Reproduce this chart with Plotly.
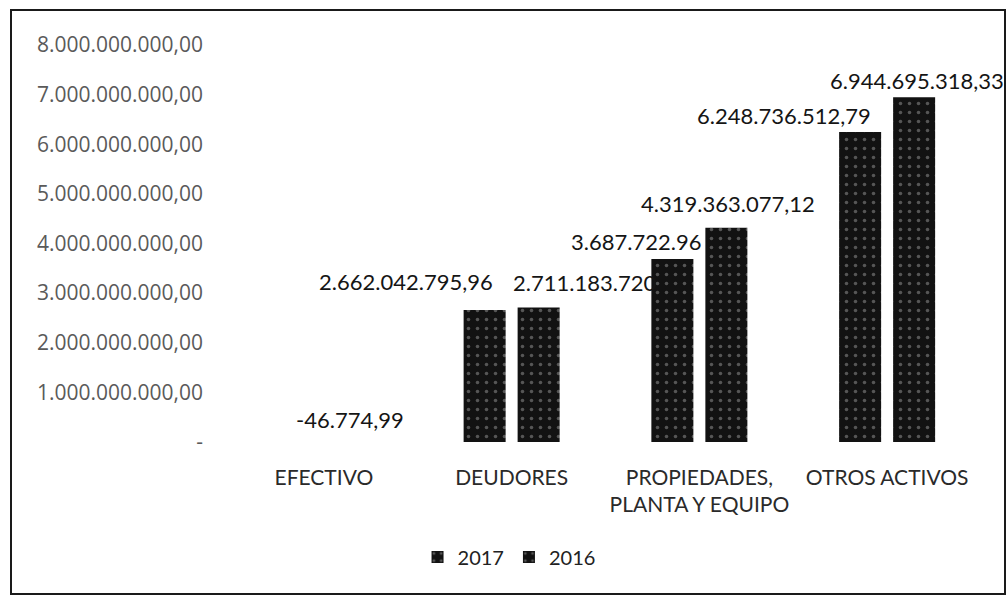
import plotly.graph_objects as go

categories = ["EFECTIVO", "DEUDORES", "PROPIEDADES,<br>PLANTA Y EQUIPO", "OTROS ACTIVOS"]
values_2017 = [None, 2662042795.96, 3687722961.00, 6248736512.79]
values_2016 = [-46774.99, 2711183720.00, 4319363077.12, 6944695318.33]
labels_2017 = [None, "2.662.042.795,96", "3.687.722.96", "6.248.736.512,79"]
labels_2016 = ["-46.774,99", "2.711.183.720", "4.319.363.077,12", "6.944.695.318,33"]
tick_values = [0, 1e9, 2e9, 3e9, 4e9, 5e9, 6e9, 7e9, 8e9]
tick_labels = ["-", "1.000.000.000,00", "2.000.000.000,00", "3.000.000.000,00",
               "4.000.000.000,00", "5.000.000.000,00", "6.000.000.000,00",
               "7.000.000.000,00", "8.000.000.000,00"]

# layout geometry (pixels)
W, H = 1008, 599
ML, MR, MT, MB = 230, 27, 45, 157
PW, PH = W - ML - MR, H - MT - MB

BAR_COLOR = "#121212"
BAR_PATTERN = dict(shape=".", fgcolor="#9a9a9a", bgcolor=BAR_COLOR, size=9,
                   solidity=0.12, fillmode="overlay")

fig = go.Figure()
fig.add_trace(go.Bar(name="2017", x=categories, y=values_2017,
                     marker=dict(color=BAR_COLOR, line=dict(width=0), pattern=BAR_PATTERN)))
fig.add_trace(go.Bar(name="2016", x=categories, y=values_2016,
                     marker=dict(color=BAR_COLOR, line=dict(width=0), pattern=BAR_PATTERN)))

# label placement offsets (px): (xshift, yshift, xanchor), relative to category centre
off_2017 = [None, (-106, 28, "center"), (-130, 18, "left"), (-103, 16, "center")]
off_2016 = [(26, 23, "center"), (-1, 25, "left"), (29, 24, "center"), (30, 17, "center")]

annotations = []
for vals, labs, offs in ((values_2017, labels_2017, off_2017), (values_2016, labels_2016, off_2016)):
    for c, v, t, o in zip(categories, vals, labs, offs):
        if v is None or t is None:
            continue
        annotations.append(dict(x=c, y=max(v, 0), xref="x", yref="y", text=t,
                                showarrow=False, xanchor=o[2], yanchor="middle",
                                xshift=o[0], yshift=o[1],
                                font=dict(family="Lato", size=22, color="#151515")))

def px_to_paper_x(px):
    return (px - ML) / PW

def px_to_paper_y(py):
    return (MT + PH - py) / PH

fig.update_layout(
    width=W, height=H,
    margin=dict(l=ML, r=MR, t=MT, b=MB, pad=0, autoexpand=False),
    paper_bgcolor="white", plot_bgcolor="white",
    barmode="group", bargap=0.4248, bargroupgap=0.222,
    showlegend=True,
    legend=dict(orientation="h", xref="container", yref="container",
                x=0.505, y=1 - 557 / H, xanchor="center", yanchor="middle",
                font=dict(family="Lato", size=20, color="#222"),
                itemwidth=30, traceorder="normal"),
    xaxis=dict(range=[-0.5, len(categories) - 0.5], autorange=False,
               showline=False, showgrid=False, zeroline=False, ticks="",
               automargin=False,
               tickfont=dict(family="Lato", size=21, color="#2a2a2a"),
               ticklabelstandoff=21),
    yaxis=dict(range=[0, 8e9], autorange=False, showline=False, showgrid=False, zeroline=False,
               automargin=False,
               tickmode="array", tickvals=tick_values, ticktext=tick_labels,
               ticks="", ticklabelstandoff=26,
               tickfont=dict(family="Open Sans", size=21, color="#5a5a5a")),
    annotations=annotations,
    shapes=[dict(type="rect", xref="paper", yref="paper",
                 x0=px_to_paper_x(11), x1=px_to_paper_x(1005),
                 y0=px_to_paper_y(594), y1=px_to_paper_y(10),
                 line=dict(color="#1a1a1a", width=2), fillcolor="rgba(0,0,0,0)",
                 layer="below")],
)

fig.write_html("out.html")
